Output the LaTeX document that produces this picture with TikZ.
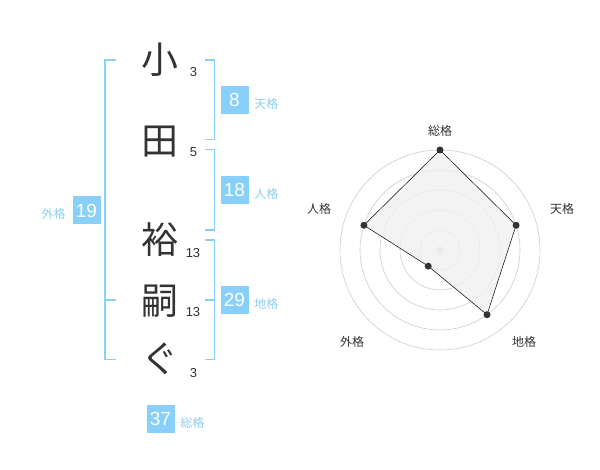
\documentclass[tikz,border=0pt]{standalone}
\usepackage{fontspec}
\setmainfont{Liberation Sans}
\newfontfamily\cjk{Noto Sans CJK JP}
\usetikzlibrary{positioning, calc}
\definecolor{KakuBlue}{HTML}{88CFFA}
\definecolor{KakuLabel}{HTML}{8CCDF2}
\definecolor{InkGray}{HTML}{333333}
\definecolor{RingGray}{HTML}{CCCCCC}

\begin{document}
\begin{tikzpicture}[x=1pt, y=-1pt,
    kanji/.style={font=\cjk\fontsize{37}{37}\selectfont, text=InkGray, inner sep=0pt},
    strokes/.style={font=\fontsize{13}{13}\selectfont, text=InkGray, inner sep=0pt},
    kakubox/.style={fill=KakuBlue, text=white, minimum width=28, minimum height=28, inner sep=0pt, font=\fontsize{19}{19}\selectfont},
    kakuname/.style={font=\cjk\fontsize{12}{12}\selectfont, text=KakuLabel, inner sep=0pt, yshift=-3.5pt},
    bracket/.style={draw=KakuBlue, line width=1.6pt},
    ring/.style={draw=RingGray, line width=0.6pt},
    axisname/.style={font=\cjk\fontsize{12}{12}\selectfont, text=InkGray, inner sep=0pt},
    vertex/.style={circle, fill=InkGray, inner sep=0pt, minimum size=7}]
    \useasboundingbox (0,0) rectangle (600,470);
    % Name characters
    \node[kanji] (k1) at (160,60) {小};
    \node[kanji] (k2) at (160,141.5) {田};
    \node[kanji] (k3) at (160,240) {裕};
    \node[kanji] (k4) at (160,301) {嗣};
    \node[kanji] (k5) at (160,359) {ぐ};
    % Stroke counts
    \node[strokes] (s1) at (193.5,72.5) {3};
    \node[strokes] (s2) at (193.5,152.5) {5};
    \node[strokes] (s3) at (193,253) {13};
    \node[strokes] (s4) at (193,312.5) {13};
    \node[strokes] (s5) at (193.5,373) {3};

    % Brackets
    \draw[bracket] (116,60) -- (105,60) -- (105,359.5) -- (116,359.5);
    \draw[bracket] (105,300) -- (116,300);
    \draw[bracket] (205,60) -- (214.5,60) -- (214.5,139.5) -- (205,139.5);
    \draw[bracket] (205,149.5) -- (214.5,149.5) -- (214.5,230) -- (205,230);
    \draw[bracket] (205,240) -- (214.5,240) -- (214.5,359.5) -- (205,359.5);
    \draw[bracket] (205,300) -- (214.5,300);

    % Totals
    \node[kakubox] (ten) at (234.5,100) {8};
    \node[kakuname, right=5.5pt of ten] (tenname) {天格};
    \node[kakubox] (jin) at (234.5,190) {18};
    \node[kakuname, right=5.5pt of jin] (jinname) {人格};
    \node[kakubox] (chi) at (234.5,300) {29};
    \node[kakuname, right=5.5pt of chi] (chiname) {地格};
    \node[kakubox] (gai) at (86.5,210.5) {19};
    \node[kakuname, left=6.5pt of gai] (gainame) {外格};
    \node[kakubox] (sou) at (160.5,419) {37};
    \node[kakuname, right=5.5pt of sou] (souname) {総格};

    % Radar chart
    \coordinate (o) at (440,250);
    \foreach \r in {20,40,60,80,100}
        \draw[ring] (o) circle (\r);
    \fill[RingGray] (o) circle (3.5);
    \coordinate (psou) at ($(o)+(-90:100)$);
    \coordinate (pten) at ($(o)+(-18:80)$);
    \coordinate (pchi) at ($(o)+(54:80)$);
    \coordinate (pgai) at ($(o)+(126:20)$);
    \coordinate (pjin) at ($(o)+(198:80)$);
    \filldraw[fill=black!6, fill opacity=0.8, draw=black, line width=0.5pt]
        (psou) -- (pten) -- (pchi) -- (pgai) -- (pjin) -- cycle;
    \foreach \p in {psou,pten,pchi,pgai,pjin}
        \node[vertex] at (\p) {};
    \node[axisname] (asou) at (440,130.5) {総格};
    \node[axisname] (aten) at (562,208.5) {天格};
    \node[axisname] (achi) at (524,342) {地格};
    \node[axisname] (agai) at (352,342) {外格};
    \node[axisname] (ajin) at (319,208.5) {人格};
\end{tikzpicture}
\end{document}
